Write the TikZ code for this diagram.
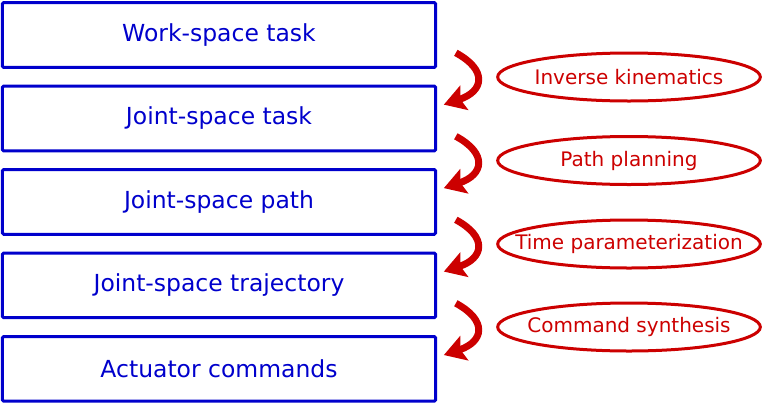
\documentclass[tikz,border=0pt]{standalone}
\usepackage{fontspec}
\setmainfont{DejaVu Sans}
\usetikzlibrary{shapes.geometric,arrows.meta,positioning}

\definecolor{boxblue}{RGB}{0,0,204}
\definecolor{stepred}{RGB}{204,0,0}

\begin{document}
\begin{tikzpicture}[x=0.75pt, y=-0.75pt, node distance=62.6pt,
    level/.style={draw=boxblue, line width=2.25pt, text=boxblue, rounded corners=1pt,
        minimum width=325pt, minimum height=48.5pt, font=\fontsize{17.6}{20}\selectfont},
    stage/.style={ellipse, draw=stepred, line width=2.25pt, text=stepred,
        minimum width=197pt, minimum height=36pt, inner sep=0pt, font=\fontsize{15}{18}\selectfont},
    flow/.style={draw=stepred, line width=5.2pt, -{Stealth[length=16pt, width=19pt, inset=3pt]}}]
    \useasboundingbox (0,0) rectangle (764,404);

    % Levels of the motion problem
    \node [level] (wstask) at (219,35) {Work-space task};
    \node [level, below of=wstask] (jstask) {Joint-space task};
    \node [level, below of=jstask] (jspath) {Joint-space path};
    \node [level, below of=jspath] (jstraj) {Joint-space trajectory};
    \node [level, below of=jstraj] (actcmd) {Actuator commands};

    % Steps between levels
    \node [stage] (invkin) at (629,77) {\makebox[0pt]{Inverse kinematics}};
    \node [stage] (pathplan) at (629,160.5) {\makebox[0pt]{Path planning}};
    \node [stage] (timepar) at (629,244) {\makebox[0pt]{Time parameterization}};
    \node [stage] (cmdsyn) at (629,327) {\makebox[0pt]{Command synthesis}};

    % Curved arrows
    \foreach \a/\b in {wstask/jstask, jstask/jspath, jspath/jstraj, jstraj/actcmd}
        \draw [flow] ([xshift=14pt, yshift=12pt]\a.south east)
            .. controls +(24pt,-13pt) and +(30pt,10pt) ..
            ([xshift=5pt, yshift=-15pt]\b.north east);
\end{tikzpicture}
\end{document}
